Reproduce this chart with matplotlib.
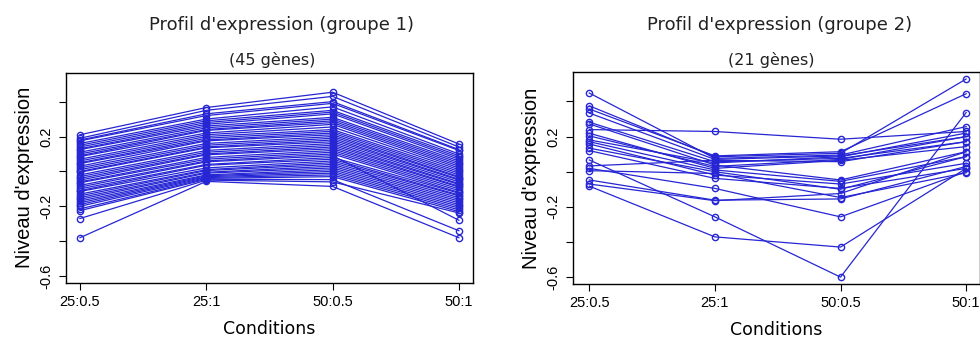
import matplotlib
matplotlib.use("Agg")
import matplotlib.pyplot as plt

conditions = ["25:0.5", "25:1", "50:0.5", "50:1"]

# groupe 1 : 45 genes, one list per condition (same gene order)
g1_c1 = [0.21, 0.19, 0.18, 0.175, 0.16, 0.15, 0.14, 0.13, 0.125, 0.11, 0.10, 0.09, 0.085, 0.07, 0.06,
         0.05, 0.045, 0.03, 0.02, 0.01, 0.0, -0.005, -0.02, -0.03, -0.04, -0.05, -0.06, -0.065, -0.08, -0.09,
         -0.10, -0.11, -0.115, -0.13, -0.14, -0.15, -0.16, -0.17, -0.18, -0.19, -0.20, -0.215, -0.225, -0.27, -0.38]
g1_c2 = [0.366, 0.35, 0.33, 0.32, 0.30, 0.29, 0.28, 0.27, 0.26, 0.25, 0.24, 0.235, 0.22, 0.21, 0.20,
         0.19, 0.18, 0.175, 0.16, 0.15, 0.14, 0.135, 0.12, 0.11, 0.10, 0.095, 0.08, 0.07, 0.06, 0.055,
         0.04, 0.035, 0.02, 0.01, 0.005, -0.005, -0.01, -0.02, -0.025, -0.03, -0.035, -0.04, -0.045, -0.05, -0.057]
g1_c3 = [0.454, 0.43, 0.40, 0.39, 0.37, 0.35, 0.34, 0.33, 0.31, 0.30, 0.29, 0.28, 0.27, 0.255, 0.24,
         0.23, 0.22, 0.21, 0.20, 0.19, 0.18, 0.17, 0.16, 0.15, 0.14, 0.13, 0.12, 0.11, 0.10, 0.09,
         0.08, 0.07, 0.06, 0.05, 0.04, 0.03, 0.02, 0.01, 0.0, -0.01, -0.02, -0.03, -0.047, -0.06, -0.086]
g1_c4 = [0.157, 0.14, 0.125, 0.12, 0.10, 0.09, 0.08, 0.07, 0.06, 0.05, 0.04, 0.03, 0.02, 0.01, 0.0,
         -0.01, -0.02, -0.03, -0.035, -0.045, -0.05, -0.06, -0.07, -0.075, -0.085, -0.09, -0.10, -0.11, -0.12, -0.28,
         -0.125, -0.135, -0.14, -0.15, -0.16, -0.17, -0.18, -0.19, -0.20, -0.21, -0.22, -0.23, -0.34, -0.238, -0.38]

# groupe 2 : 21 genes
g2_c1 = [0.448, 0.375, 0.357, 0.334, 0.282, 0.272, 0.24, 0.219, 0.204, 0.181, 0.171,
         0.158, 0.134, 0.12, 0.067, 0.033, 0.019, 0.006, -0.047, -0.07, -0.082]
g2_c2 = [0.076, 0.085, 0.09, 0.07, 0.057, 0.038, 0.229, 0.019, 0.03, 0.05, 0.01,
         -0.019, 0.0, -0.038, -0.257, 0.065, -0.095, -0.01, -0.162, -0.165, -0.371]
g2_c3 = [0.095, 0.105, 0.114, 0.09, 0.076, -0.047, 0.185, 0.065, 0.07, 0.085, -0.055,
         -0.07, -0.1, -0.095, -0.6, 0.057, -0.257, -0.147, -0.155, -0.124, -0.429]
g2_c4 = [0.257, 0.528, 0.444, 0.2, 0.171, 0.114, 0.229, 0.143, 0.2, 0.22, 0.086,
         0.048, 0.086, 0.019, 0.337, 0.171, 0.0, -0.006, 0.03, 0.114, 0.019]

groups = [
    ("Profil d'expression (groupe 1)", "(45 gènes)", [g1_c1, g1_c2, g1_c3, g1_c4]),
    ("Profil d'expression (groupe 2)", "(21 gènes)", [g2_c1, g2_c2, g2_c3, g2_c4]),
]

blue = "#2626d4"
fig = plt.figure(figsize=(9.8, 3.51), dpi=100)

axes_rect = [[0.067, 0.195, 0.4153, 0.598], [0.5844, 0.192, 0.4153, 0.602]]
xlims = [(0.887, 4.109), (0.868, 4.108)]
title_x = [281 / 980, 780 / 980]

for k, (title, sub, cols) in enumerate(groups):
    ax = fig.add_axes(axes_rect[k])
    x = list(range(1, len(conditions) + 1))
    for g in range(len(cols[0])):
        y = [c[g] for c in cols]
        ax.plot(x, y, color=blue, lw=0.9, marker="o", ms=4.5,
                mfc="none", mec=blue, mew=1.0)
    ax.set_xlim(*xlims[k])
    ax.set_ylim(-0.637, 0.566)
    ax.set_xticks(x)
    ax.set_xticklabels(conditions, family="Liberation Sans", fontsize=10.5)
    yt = [-0.6, -0.4, -0.2, 0.0, 0.2, 0.4]
    ax.set_yticks(yt)
    ax.set_yticklabels(["-0.6", "", "-0.2", "", "0.2", ""], rotation=90,
                       va="center", family="Liberation Sans", fontsize=10.5)
    ax.tick_params(length=5, width=0.8, pad=4)
    for s in ax.spines.values():
        s.set_linewidth(1.0)
    ax.set_xlabel("Conditions", family="DejaVu Sans", fontsize=12.5, labelpad=8)
    ax.set_ylabel("Niveau d'expression", family="Liberation Sans", fontsize=14.5, labelpad=4)
    fig.text(title_x[k], 1 - 25 / 351, title, ha="center", va="center",
             family="DejaVu Sans", fontsize=13, color="#222222")
    fig.text(title_x[k] - 9 / 980, 1 - 60 / 351, sub, ha="center", va="center",
             family="DejaVu Sans", fontsize=11.5, color="#222222")

fig.savefig("out.png", dpi=100)
